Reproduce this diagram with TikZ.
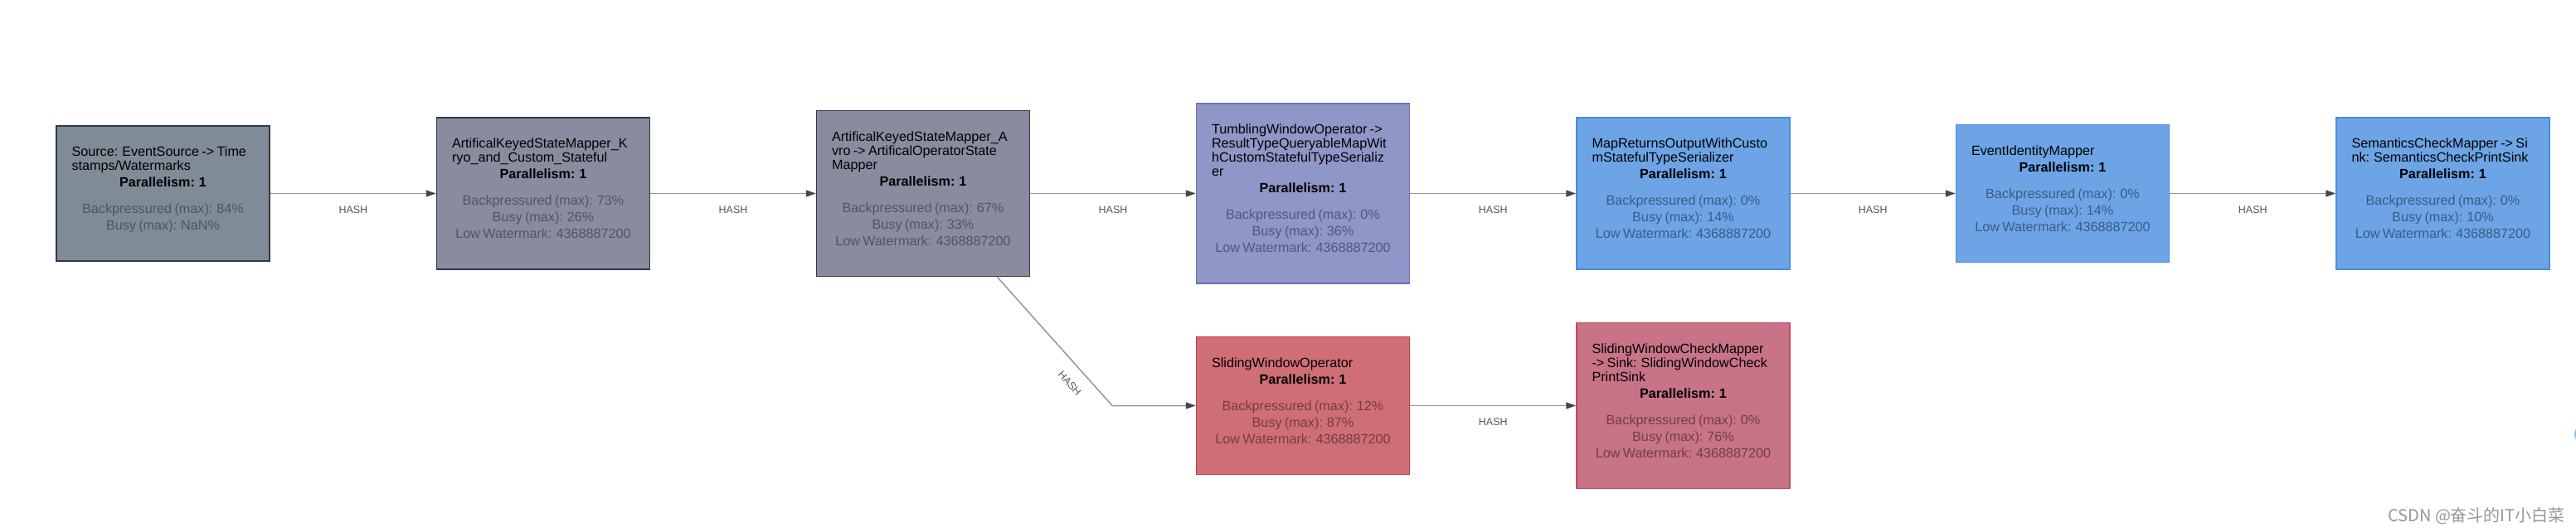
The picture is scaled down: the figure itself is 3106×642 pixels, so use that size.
\documentclass[tikz,border=0pt]{standalone}
\usepackage{fontspec}
\setmainfont{Liberation Sans}
\newfontfamily\cjk{Noto Sans CJK SC}
\usetikzlibrary{arrows.meta, positioning}
\definecolor{srcfill}{RGB}{127,139,150}
\definecolor{srcdraw}{RGB}{45,58,75}
\definecolor{srcmetric}{RGB}{78,86,96}
\definecolor{keyfill}{RGB}{137,140,158}
\definecolor{keydraw}{RGB}{48,55,75}
\definecolor{keymetric}{RGB}{82,84,98}
\definecolor{tumfill}{RGB}{143,150,200}
\definecolor{tumdraw}{RGB}{105,114,182}
\definecolor{tummetric}{RGB}{82,87,122}
\definecolor{mapfill}{RGB}{108,164,230}
\definecolor{mapdraw}{RGB}{72,140,225}
\definecolor{mapmetric}{RGB}{58,92,132}
\definecolor{slidefill}{RGB}{208,110,118}
\definecolor{slidedraw}{RGB}{195,55,70}
\definecolor{slidemetric}{RGB}{116,60,66}
\definecolor{chkfill}{RGB}{200,115,135}
\definecolor{chkdraw}{RGB}{195,72,98}
\definecolor{chkmetric}{RGB}{112,62,74}
\definecolor{flowgray}{RGB}{150,150,150}
\definecolor{tipgray}{RGB}{70,70,70}
\definecolor{hashgray}{RGB}{85,85,85}
\definecolor{markgray}{RGB}{150,150,150}
\definecolor{dotblue}{RGB}{125,195,240}
\newcommand{\opbody}[2]{%
  \setlength{\parindent}{0pt}\setlength{\parskip}{0pt}%
  {\raggedright\fontsize{16.2}{17}\selectfont #1\par}%
  {\centering\fontsize{16.2}{20}\selectfont\bfseries Parallelism: 1\par}%
  \vspace{12pt}%
  {\centering\fontsize{16.2}{20}\selectfont\color{metric}#2\rule[-12pt]{0pt}{12pt}\par}}

\begin{document}
\begin{tikzpicture}[x=1pt, y=-1pt,
    opbox/.style={draw, line width=1.5pt, text width=220pt,
                  inner xsep=18.5pt, inner ysep=25pt, text=black},
    srcbox/.style={opbox, fill=srcfill, draw=srcdraw, line width=2pt,
                   execute at begin node={\colorlet{metric}{srcmetric}}},
    keybox/.style={opbox, fill=keyfill, draw=keydraw,
                   execute at begin node={\colorlet{metric}{keymetric}}},
    tumbox/.style={opbox, fill=tumfill, draw=tumdraw,
                   execute at begin node={\colorlet{metric}{tummetric}}},
    mapbox/.style={opbox, fill=mapfill, draw=mapdraw,
                   execute at begin node={\colorlet{metric}{mapmetric}}},
    slidebox/.style={opbox, fill=slidefill, draw=slidedraw,
                   execute at begin node={\colorlet{metric}{slidemetric}}},
    chkbox/.style={opbox, fill=chkfill, draw=chkdraw,
                   execute at begin node={\colorlet{metric}{chkmetric}}},
    flow/.style={draw=flowgray, line width=1.5pt,
                 -{Triangle[length=12pt,width=8pt,color=tipgray]}},
    hashlbl/.style={font=\fontsize{12.5}{14}\selectfont, text=hashgray, inner sep=0pt}]
  \useasboundingbox (0,0) rectangle (3106,642);

  % upper row
  \node[srcbox](src) at (196.5,233.5){\opbody
    {Source: EventSource -> Time\\stamps/Watermarks}
    {Backpressured (max): 84\%\\Busy (max): NaN\%}};
  \node[keybox](kryo) at (655,233.5){\opbody
    {ArtificalKeyedStateMapper\_K\\ryo\_and\_Custom\_Stateful}
    {Backpressured (max): 73\%\\Busy (max): 26\%\\Low Watermark: 4368887200}};
  \node[keybox](avro) at (1113,233.5){\opbody
    {ArtificalKeyedStateMapper\_A\\vro -> ArtificalOperatorState\\Mapper}
    {Backpressured (max): 67\%\\Busy (max): 33\%\\Low Watermark: 4368887200}};
  \node[tumbox](tumble) at (1571,233.5){\opbody
    {TumblingWindowOperator ->\\ResultTypeQueryableMapWit\\hCustomStatefulTypeSerializ\\er}
    {Backpressured (max): 0\%\\Busy (max): 36\%\\Low Watermark: 4368887200}};
  \node[mapbox](retmap) at (2029.5,233.5){\opbody
    {MapReturnsOutputWithCusto\\mStatefulTypeSerializer}
    {Backpressured (max): 0\%\\Busy (max): 14\%\\Low Watermark: 4368887200}};
  \node[mapbox](ident) at (2487,233.5){\opbody
    {EventIdentityMapper}
    {Backpressured (max): 0\%\\Busy (max): 14\%\\Low Watermark: 4368887200}};
  \node[mapbox](semsink) at (2945.5,233.5){\opbody
    {SemanticsCheckMapper -> Si\\nk: SemanticsCheckPrintSink}
    {Backpressured (max): 0\%\\Busy (max): 10\%\\Low Watermark: 4368887200}};

  % lower row
  \node[slidebox](slide) at (1571,489.5){\opbody
    {SlidingWindowOperator}
    {Backpressured (max): 12\%\\Busy (max): 87\%\\Low Watermark: 4368887200}};
  \node[chkbox](slidesink) at (2029.5,489.5){\opbody
    {SlidingWindowCheckMapper\\-> Sink: SlidingWindowCheck\\PrintSink}
    {Backpressured (max): 0\%\\Busy (max): 76\%\\Low Watermark: 4368887200}};

  % edges
  \draw[flow](src)--(kryo) node[hashlbl,midway,below=15pt]{HASH};
  \draw[flow](kryo)--(avro) node[hashlbl,midway,below=15pt]{HASH};
  \draw[flow](avro)--(tumble) node[hashlbl,midway,below=15pt]{HASH};
  \draw[flow](tumble)--(retmap) node[hashlbl,midway,below=15pt]{HASH};
  \draw[flow](retmap)--(ident) node[hashlbl,midway,below=15pt]{HASH};
  \draw[flow](ident)--(semsink) node[hashlbl,midway,below=15pt]{HASH};
  \coordinate (bend) at (1341,489.5);
  \draw[flow]([xshift=-40pt]avro.south east)
    -- node[hashlbl,pos=0.74,sloped,below=15pt]{HASH} (bend) -- (slide);
  \draw[flow](slide)--(slidesink) node[hashlbl,midway,below=15pt]{HASH};

  % watermark and edge dot
  \node[font=\cjk\fontsize{20}{22}\selectfont, text=markgray](mark) at (2986,623){CSDN @奋斗的IT小白菜};
  \begin{scope}
    \clip (0,0) rectangle (3106,642);
    \fill[dotblue] (3116,524) circle (12);
  \end{scope}
\end{tikzpicture}
\end{document}
